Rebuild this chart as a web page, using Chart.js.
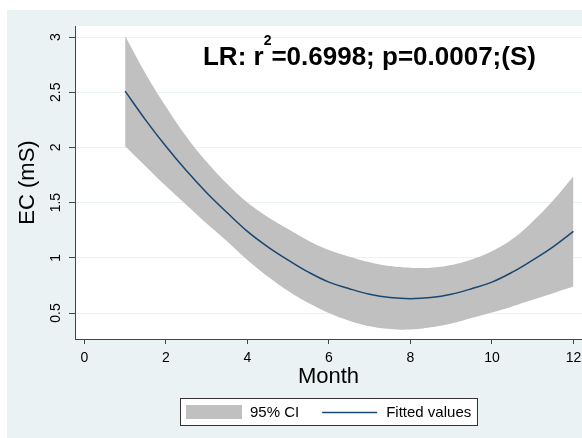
<!DOCTYPE html>
<html>
<head>
<meta charset="utf-8">
<script src="https://cdn.jsdelivr.net/npm/chart.js@4.4.0/dist/chart.umd.min.js"></script>
<style>
  html, body { margin: 0; padding: 0; background: #fff; }
  #chart { display: block; }
</style>
</head>
<body>
<canvas id="chart" width="582" height="438"></canvas>
<script>
// Values (month, fitted EC and its 95% band)
const months       = [1, 1.5, 2, 2.5, 3, 3.5, 4, 4.5, 5, 5.5, 6, 6.5, 7, 7.5, 8, 8.5, 9, 9.5, 10, 10.5, 11, 11.5, 12];
const fittedValues = [2.51, 2.25, 2.01, 1.79, 1.59, 1.41, 1.24, 1.10, 0.98, 0.87, 0.78, 0.72, 0.67, 0.64, 0.63, 0.64, 0.67, 0.72, 0.78, 0.87, 0.98, 1.10, 1.24];
const ciUpper      = [3.01, 2.67, 2.37, 2.10, 1.87, 1.67, 1.50, 1.37, 1.26, 1.155, 1.07, 1.01, 0.96, 0.925, 0.91, 0.91, 0.935, 0.985, 1.06, 1.17, 1.33, 1.52, 1.74];
const ciLower      = [2.01, 1.83, 1.65, 1.48, 1.31, 1.15, 0.98, 0.83, 0.70, 0.59, 0.50, 0.43, 0.38, 0.355, 0.35, 0.37, 0.405, 0.455, 0.505, 0.56, 0.62, 0.68, 0.74];

const xTicks = [0, 2, 4, 6, 8, 10, 12];
const yTicks = [0.5, 1, 1.5, 2, 2.5, 3];
const legendLabels = ['95% CI', 'Fitted values'];
const noteParts = ['LR: r', '2', '=0.6998; p=0.0007;(S)'];
const notePos = { x: 2.91, y: 2.75 };

const FONT = "'Liberation Sans', Arial, sans-serif";
const BG = '#EAF2F3';
const BAND = '#C0C0C0';
const LINE = '#1A476F';
const AXIS = '#444';

function toPoints(ys) {
    return months.map((m, i) => ({ x: m, y: ys[i] }));
}

// Stata-like backdrop: bluish graph region, white plot region
const backdrop = {
    id: 'backdrop',
    beforeDraw(chart) {
        const { ctx, chartArea: a } = chart;
        ctx.save();
        ctx.fillStyle = '#fff';
        ctx.fillRect(0, 0, chart.width, chart.height);
        ctx.fillStyle = BG;
        ctx.fillRect(7, 10, chart.width - 7, chart.height - 10);
        ctx.fillStyle = '#fff';
        ctx.fillRect(a.left, a.top, a.right - a.left, a.bottom - a.top);
        ctx.restore();
    }
};

// the r^2 / p note inside the plot
const note = {
    id: 'note',
    afterDatasetsDraw(chart) {
        const { ctx, scales } = chart;
        let px = scales.x.getPixelForValue(notePos.x);
        const py = scales.y.getPixelForValue(notePos.y);
        ctx.save();
        ctx.fillStyle = '#000';
        ctx.textBaseline = 'alphabetic';
        ctx.textAlign = 'left';
        ctx.font = 'bold 26px ' + FONT;
        ctx.fillText(noteParts[0], px, py);
        px += ctx.measureText(noteParts[0]).width;
        ctx.font = 'bold 14px ' + FONT;
        ctx.fillText(noteParts[1], px, py - 20);
        px += ctx.measureText(noteParts[1]).width;
        ctx.font = 'bold 26px ' + FONT;
        ctx.fillText(noteParts[2], px, py);
        ctx.restore();
    }
};

// boxed legend under the axis title
const legendBox = {
    id: 'legendBox',
    afterDraw(chart) {
        const { ctx, chartArea: a } = chart;
        ctx.save();
        ctx.font = '15px ' + FONT;
        const w1 = ctx.measureText(legendLabels[0]).width;
        const w2 = ctx.measureText(legendLabels[1]).width;
        const boxW = Math.round(6 + 56 + 8 + w1 + 23 + 55 + 9 + w2 + 7);
        const boxH = 28, top = 398;
        const left = Math.round((a.left + a.right) / 2 - boxW / 2);
        const mid = top + 14.5;

        ctx.fillStyle = '#fff';
        ctx.fillRect(left, top, boxW, boxH);
        ctx.strokeStyle = '#333';
        ctx.lineWidth = 1;
        ctx.strokeRect(left + 0.5, top + 0.5, boxW - 1, boxH - 1);

        ctx.fillStyle = BAND;
        ctx.fillRect(left + 6, top + 7, 56, 14);

        ctx.fillStyle = '#000';
        ctx.textBaseline = 'middle';
        ctx.textAlign = 'left';
        let x = left + 6 + 56 + 8;
        ctx.fillText(legendLabels[0], x, mid);
        x += w1 + 23;

        ctx.strokeStyle = LINE;
        ctx.lineWidth = 1.5;
        ctx.beginPath();
        ctx.moveTo(x, mid);
        ctx.lineTo(x + 55, mid);
        ctx.stroke();
        x += 55 + 9;
        ctx.fillText(legendLabels[1], x, mid);
        ctx.restore();
    }
};

new Chart(document.getElementById('chart'), {
    type: 'line',
    data: {
        datasets: [
            {
                label: legendLabels[1],
                data: toPoints(fittedValues),
                borderColor: LINE,
                borderWidth: 1.5,
                pointRadius: 0,
                fill: false,
                tension: 0.4
            },
            {
                label: legendLabels[0],
                data: toPoints(ciUpper),
                borderColor: BAND,
                backgroundColor: BAND,
                borderWidth: 0,
                pointRadius: 0,
                fill: '+1',
                tension: 0.4
            },
            {
                label: 'ci lower',
                data: toPoints(ciLower),
                borderColor: BAND,
                backgroundColor: BAND,
                borderWidth: 0,
                pointRadius: 0,
                fill: false,
                tension: 0.4
            }
        ]
    },
    options: {
        responsive: false,
        animation: false,
        layout: { padding: { left: 7, top: 26, right: 0, bottom: 46 } },
        plugins: {
            legend: { display: false },
            tooltip: { enabled: false }
        },
        scales: {
            x: {
                type: 'linear',
                min: -0.23,
                max: 12.21,
                afterBuildTicks: s => { s.ticks = xTicks.map(v => ({ value: v })); },
                afterFit: s => { s.height = 53; s.paddingLeft = 0; s.paddingRight = 0; },
                grid: { drawOnChartArea: false, tickLength: 5, tickColor: AXIS },
                border: { color: AXIS, width: 1 },
                ticks: {
                    color: '#000',
                    font: { family: FONT, size: 14 },
                    padding: 6,
                    maxRotation: 0,
                    callback: v => String(v)
                },
                title: {
                    display: true,
                    text: 'Month',
                    color: '#000',
                    font: { family: FONT, size: 22 },
                    padding: { top: 0, bottom: 2 }
                }
            },
            y: {
                min: 0.2645,
                max: 3.1,
                afterBuildTicks: s => { s.ticks = yTicks.map(v => ({ value: v })); },
                afterFit: s => { s.width = 68; s.paddingTop = 0; s.paddingBottom = 0; },
                grid: { color: BG, tickLength: 6, tickColor: AXIS },
                border: { color: AXIS, width: 1 },
                ticks: {
                    color: '#000',
                    font: { family: FONT, size: 14 },
                    padding: 3,
                    minRotation: 90,
                    maxRotation: 90,
                    crossAlign: 'center',
                    callback: v => String(v)
                },
                title: {
                    display: true,
                    text: 'EC (mS)',
                    color: '#000',
                    font: { family: FONT, size: 22 },
                    padding: { top: 8, bottom: 0 }
                }
            }
        }
    },
    plugins: [backdrop, note, legendBox]
});
</script>
</body>
</html>
